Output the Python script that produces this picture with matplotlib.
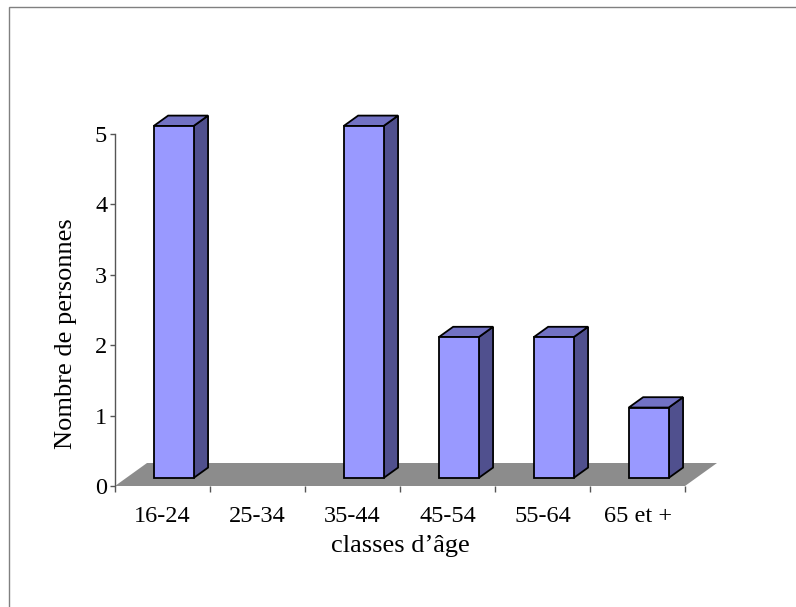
import numpy as np
import matplotlib
matplotlib.use("Agg")
import matplotlib.pyplot as plt
from matplotlib.patches import Polygon, Rectangle

# données
categories = ["16-24", "25-34", "35-44", "45-54", "55-64", "65 et +"]
nb_personnes = [5, 0, 5, 2, 2, 1]
yticks = [0, 1, 2, 3, 4, 5]

plt.rcParams["font.family"] = ["Liberation Serif", "DejaVu Serif"]

FACE = "#9999ff"
SIDE = "#50508e"
TOP = "#7272c4"
FLOOR = "#8c8c8c"
AXE = "#555555"

W, H = 796, 607
fig = plt.figure(figsize=(W / 100, H / 100), dpi=100)
ax = fig.add_axes([115 / W, 121 / H, 570 / W, 352 / H])
n = len(categories)
ax.set_xlim(0, n)
ax.set_ylim(0, 5)

# profondeur "3D" (en pixels) convertie en unités de données
p0 = ax.transData.transform((0, 0))
p1 = ax.transData.transform((1, 1))
ddx = 32 / (p1[0] - p0[0])
ddy = 23 / (p1[1] - p0[1])

# plancher gris
floor = Polygon([(0, 0), (n, 0), (n + ddx, ddy), (ddx, ddy)], closed=True,
                facecolor=FLOOR, edgecolor="none", clip_on=False, zorder=1)
ax.add_patch(floor)

front, back = 0.35, 0.80
width = 0.42
x = np.arange(n) + 0.5
vals = np.array(nb_personnes, dtype=float)
mask = vals > 0

bx = (back - front) * ddx
by = (back - front) * ddy
for xi, v in zip(x[mask], vals[mask]):
    x0 = xi - width / 2 + front * ddx
    x1 = xi + width / 2 + front * ddx
    y0 = front * ddy
    y1 = v + front * ddy
    side = Polygon([(x1, y0), (x1 + bx, y0 + by), (x1 + bx, y1 + by), (x1, y1)],
                   closed=True, facecolor=SIDE, edgecolor="black", lw=1.3,
                   clip_on=False, zorder=3)
    top = Polygon([(x0, y1), (x1, y1), (x1 + bx, y1 + by), (x0 + bx, y1 + by)],
                  closed=True, facecolor=TOP, edgecolor="black", lw=1.3,
                  clip_on=False, zorder=3)
    ax.add_patch(side)
    ax.add_patch(top)

ax.bar(x[mask] + front * ddx, vals[mask], width, bottom=front * ddy,
       color=FACE, edgecolor="black", linewidth=1.3, clip_on=False, zorder=4)

for s in ["top", "right", "bottom"]:
    ax.spines[s].set_visible(False)
ax.spines["left"].set_color(AXE)
ax.spines["left"].set_linewidth(1)

ax.set_yticks(yticks)
ax.tick_params(axis="y", direction="out", length=3.6, width=1, color=AXE,
               labelsize=17.5, pad=2)

ax.set_xticks(np.arange(n + 1))
ax.set_xticklabels([])
ax.set_xticks(x, categories, minor=True)
ax.tick_params(axis="x", which="major", direction="out", length=4.3, width=1,
               color=AXE)
ax.tick_params(axis="x", which="minor", length=0, labelsize=17.5, pad=14.5)

ax.set_xlabel("classes d’âge", fontsize=19, labelpad=6)
ax.set_ylabel("Nombre de personnes", fontsize=19)
ax.yaxis.set_label_coords(-0.066, 0.432)

# cadre gris autour du graphique
fig.add_artist(Rectangle((9 / W, -0.01), 1.0, (H - 7) / H + 0.01,
                         transform=fig.transFigure, fill=False,
                         edgecolor="#808080", linewidth=1))

fig.savefig("out.png", dpi=100, facecolor="white")
